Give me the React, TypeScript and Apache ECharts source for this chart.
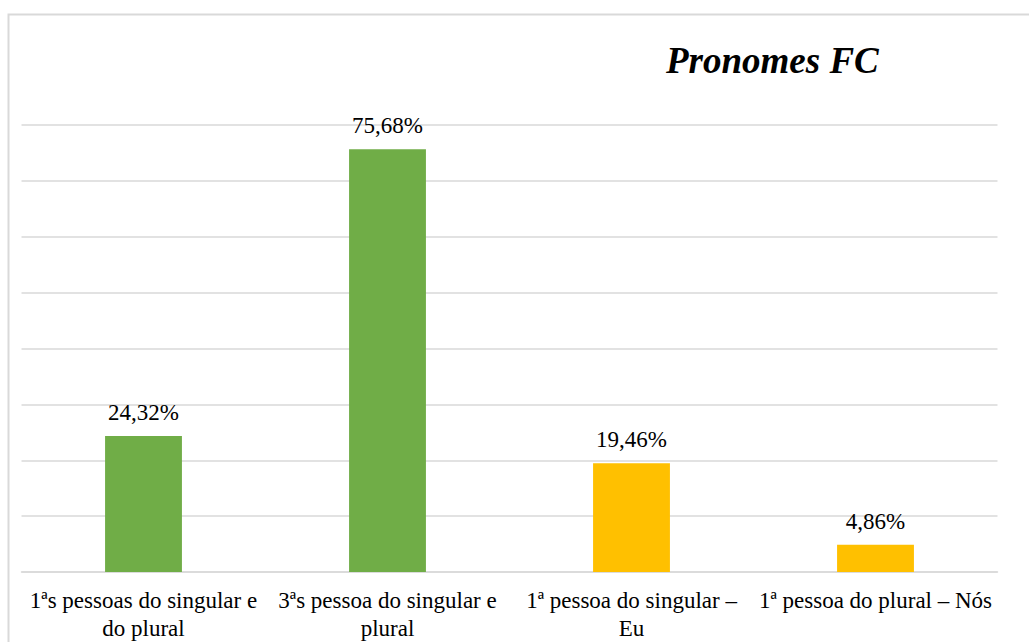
import React, { useEffect, useRef } from "react";
import * as echarts from "echarts";

const categories = [
  "1ªs pessoas do singular e\ndo plural",
  "3ªs pessoa do singular e\nplural",
  "1ª pessoa do singular –\nEu",
  "1ª pessoa do plural – Nós",
];
const values = [24.32, 75.68, 19.46, 4.86];
const barColors = ["#70AD47", "#70AD47", "#FFC000", "#FFC000"];
const titleText = "Pronomes FC";

const SERIF = "Liberation Serif";

export default function App() {
  const ref = useRef<HTMLDivElement>(null);

  useEffect(() => {
    if (!ref.current) return;
    const chart = echarts.init(ref.current, undefined, { renderer: "svg" });
    chart.setOption({
      animation: false,
      backgroundColor: "#ffffff",
      graphic: [
        {
          type: "rect",
          shape: { x: 8.5, y: 14.5, width: 1100, height: 700 },
          style: { fill: "none", stroke: "#d9d9d9", lineWidth: 2 },
          silent: true,
        },
      ],
      title: {
        text: titleText,
        left: 661,
        top: 37,
        textStyle: {
          fontFamily: SERIF,
          fontSize: 37,
          fontWeight: "bold",
          fontStyle: "italic",
          color: "#000000",
        },
      },
      grid: { left: 21.5, right: 31.5, top: 125, bottom: 66, containLabel: false },
      xAxis: {
        type: "category",
        data: categories,
        axisLine: { show: true, lineStyle: { color: "#d9d9d9", width: 1.5 } },
        axisTick: { show: false },
        axisLabel: {
          interval: 0,
          margin: 14,
          fontFamily: SERIF,
          fontSize: 23,
          lineHeight: 28,
          color: "#000000",
        },
      },
      yAxis: {
        type: "value",
        min: 0,
        max: 80,
        interval: 10,
        axisLabel: { show: false },
        axisLine: { show: false },
        axisTick: { show: false },
        splitLine: { lineStyle: { color: "#d9d9d9", width: 1.5 } },
      },
      series: [
        {
          type: "bar",
          barWidth: "31.5%",
          data: values.map((v, i) => ({ value: v, itemStyle: { color: barColors[i] } })),
          label: {
            show: true,
            position: "top",
            distance: 12,
            fontFamily: SERIF,
            fontSize: 23,
            color: "#000000",
            formatter: (p: any) => p.value.toFixed(2).replace(".", ",") + "%",
          },
        },
      ],
    });
    return () => chart.dispose();
  }, []);

  return <div ref={ref} style={{ width: 1029, height: 642, position: "absolute", left: 0, top: 0 }} />;
}
